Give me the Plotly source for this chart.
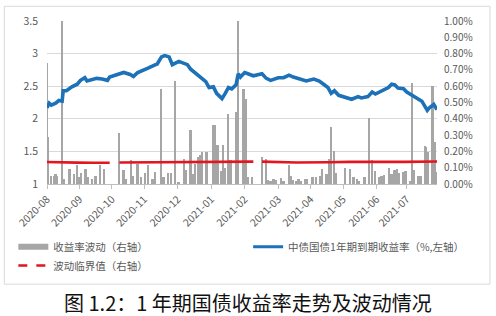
import plotly.graph_objects as go

# ---------------- data ----------------
line_dates = ["2020-08-03","2020-08-05","2020-08-07","2020-08-11","2020-08-14","2020-08-17","2020-08-18",
              "2020-08-21","2020-08-26","2020-08-31","2020-09-03","2020-09-07","2020-09-09","2020-09-14",
              "2020-09-18","2020-09-23","2020-09-28","2020-09-30","2020-10-09","2020-10-13","2020-10-19",
              "2020-10-22","2020-10-26","2020-11-02","2020-11-05","2020-11-10","2020-11-13","2020-11-17",
              "2020-11-20","2020-11-24","2020-11-27","2020-12-03","2020-12-08","2020-12-11","2020-12-14",
              "2020-12-18","2020-12-23","2020-12-28","2020-12-31","2021-01-04","2021-01-07","2021-01-12",
              "2021-01-15","2021-01-18","2021-01-21","2021-01-25","2021-01-27","2021-01-29","2021-02-02",
              "2021-02-08","2021-02-10","2021-02-18","2021-02-22","2021-02-26","2021-03-05","2021-03-10",
              "2021-03-15","2021-03-19","2021-03-25","2021-03-31","2021-04-07","2021-04-12","2021-04-16",
              "2021-04-20","2021-04-23","2021-04-26","2021-04-30","2021-05-07","2021-05-12","2021-05-18",
              "2021-05-21","2021-05-27","2021-05-31","2021-06-03","2021-06-08","2021-06-15","2021-06-18",
              "2021-06-21","2021-06-24","2021-06-29","2021-07-02","2021-07-07","2021-07-12","2021-07-16",
              "2021-07-21","2021-07-23","2021-07-27","2021-07-30"]
line_vals = [2.17,2.24,2.21,2.24,2.28,2.27,2.43,
             2.43,2.49,2.53,2.59,2.63,2.58,2.61,
             2.62,2.61,2.59,2.64,2.69,2.71,2.68,
             2.65,2.71,2.75,2.78,2.82,2.84,2.95,
             2.97,2.95,2.83,2.88,2.84,2.83,2.76,
             2.71,2.64,2.57,2.48,2.49,2.39,2.31,
             2.39,2.48,2.46,2.52,2.69,2.64,2.71,
             2.68,2.66,2.69,2.62,2.59,2.63,2.63,
             2.67,2.64,2.61,2.58,2.61,2.58,2.53,
             2.48,2.39,2.43,2.36,2.32,2.30,2.34,
             2.32,2.34,2.41,2.38,2.42,2.48,2.53,
             2.52,2.47,2.46,2.41,2.36,2.31,2.27,
             2.13,2.17,2.22,2.14]

bar_dates = ["2020-08-03","2020-08-04","2020-08-07","2020-08-10","2020-08-11","2020-08-12","2020-08-17",
             "2020-08-19","2020-08-24","2020-08-28","2020-08-31","2020-09-02","2020-09-04","2020-09-08",
             "2020-09-10","2020-09-14","2020-09-17","2020-09-21","2020-09-25","2020-10-09","2020-10-13",
             "2020-10-15","2020-10-20","2020-10-22","2020-10-26","2020-10-29","2020-11-02","2020-11-05",
             "2020-11-09","2020-11-11","2020-11-17","2020-11-19","2020-11-23","2020-11-26","2020-11-30",
             "2020-12-03","2020-12-08","2020-12-10","2020-12-14","2020-12-16","2020-12-18","2020-12-21",
             "2020-12-23","2020-12-25","2020-12-29","2021-01-04","2021-01-06","2021-01-08","2021-01-11",
             "2021-01-13","2021-01-15","2021-01-18","2021-01-20","2021-01-25","2021-01-27","2021-02-01",
             "2021-02-03","2021-02-05","2021-02-09","2021-02-18","2021-02-22","2021-02-24","2021-02-26",
             "2021-03-01","2021-03-03","2021-03-08","2021-03-10","2021-03-15","2021-03-17","2021-03-19",
             "2021-03-22","2021-03-24","2021-03-26","2021-03-30","2021-04-01","2021-04-06","2021-04-09",
             "2021-04-13","2021-04-15","2021-04-19","2021-04-21","2021-04-23","2021-04-26","2021-04-28",
             "2021-05-06","2021-05-11","2021-05-14","2021-05-17","2021-05-19","2021-05-24","2021-05-28",
             "2021-05-31","2021-06-03","2021-06-07","2021-06-09","2021-06-11","2021-06-16","2021-06-18",
             "2021-06-21","2021-06-23","2021-06-25","2021-06-29","2021-07-01","2021-07-05","2021-07-07",
             "2021-07-09","2021-07-13","2021-07-15","2021-07-19","2021-07-20","2021-07-22","2021-07-26",
             "2021-07-28","2021-07-29"]
bar_vals = [0.74,0.29,0.05,0.05,0.06,0.05,1.05,
            0.03,0.09,0.06,0.115,0.04,0.07,0.09,
            0.04,0.03,0.05,0.115,0.09,0.31,0.085,
            0.03,0.145,0.05,0.12,0.04,0.065,0.115,
            0.03,0.075,0.58,0.04,0.065,0.065,0.63,
            0.01,0.155,0.085,0.33,0.06,0.125,0.165,
            0.175,0.195,0.195,0.36,0.36,0.24,0.08,
            0.24,0.10,0.43,0.145,0.44,1.05,0.58,
            0.52,0.04,0.04,0.165,0.155,0.025,0.02,
            0.03,0.025,0.035,0.02,0.115,0.05,0.025,
            0.02,0.03,0.02,0.03,0.03,0.045,0.04,
            0.05,0.09,0.06,0.155,0.35,0.205,0.065,
            0.10,0.095,0.04,0.03,0.02,0.04,0.405,
            0.15,0.08,0.04,0.05,0.055,0.10,0.06,
            0.085,0.09,0.07,0.075,0.08,0.02,0.62,
            0.085,0.05,0.05,0.235,0.23,0.195,0.60,
            0.255,0.075]

thr_dates = ["2020-08-03","2020-08-20","2020-08-31","2020-09-15","2020-09-30","2020-10-01","2020-10-09",
             "2020-11-02","2020-12-01","2020-12-31","2021-01-29","2021-02-10","2021-02-11","2021-02-18",
             "2021-03-22","2021-04-20","2021-05-10","2021-06-30","2021-07-30"]
thr_vals = [0.135,0.135,0.131,0.130,0.130,None,0.132,
            0.133,0.134,0.137,0.137,0.137,None,0.137,
            0.132,0.133,0.136,0.136,0.138]

tick_dates = ["2020-08-03","2020-09-02","2020-10-02","2020-11-01","2020-12-02","2021-01-02",
              "2021-02-02","2021-03-05","2021-04-04","2021-05-04","2021-06-04","2021-07-02"]
tick_labels = ["2020-08","2020-09","2020-10","2020-11","2020-12","2021-01",
               "2021-02","2021-03","2021-04","2021-05","2021-06","2021-07"]

left_ticks = [1, 1.5, 2, 2.5, 3, 3.5]
right_ticks = [0, 0.1, 0.2, 0.3, 0.4, 0.5, 0.6, 0.7, 0.8, 0.9, 1.0]

name_bar = "收益率波动（右轴）"
name_line = "中债国债1年期到期收益率（%,左轴）"
name_thr = "波动临界值（右轴）"
caption = "图 1.2：1 年期国债收益率走势及波动情况"

# ---------------- styles ----------------
GRAY = "#A6A6A6"
BLUE = "#1C71B8"
RED = "#E3151E"
TXT = "#595959"
FONT = "Noto Sans CJK SC"

fig = go.Figure()

fig.add_trace(go.Bar(x=bar_dates, y=bar_vals, yaxis="y", marker=dict(color=GRAY, line=dict(width=0)),
                     width=1.7 * 86400000, showlegend=False, name=name_bar))
fig.add_trace(go.Scatter(x=thr_dates, y=thr_vals, yaxis="y", mode="lines",
                         line=dict(color=RED, width=2.6), connectgaps=False,
                         showlegend=False, name=name_thr))
fig.add_trace(go.Scatter(x=line_dates, y=line_vals, yaxis="y2", mode="lines",
                         line=dict(color=BLUE, width=3.6), showlegend=False, name=name_line))

# legend-only entries
fig.add_trace(go.Scatter(x=[None], y=[None], mode="lines", line=dict(color=GRAY, width=6),
                         name=name_bar, legend="legend"))
fig.add_trace(go.Scatter(x=[None], y=[None], mode="lines", line=dict(color=BLUE, width=3),
                         name=name_line, legend="legend2"))
fig.add_trace(go.Scatter(x=[None], y=[None], mode="lines", line=dict(color=RED, width=2.5, dash="dash"),
                         name=name_thr, legend="legend3"))

leg_common = dict(font=dict(family=FONT, size=10.5, color=TXT), bgcolor="rgba(0,0,0,0)",
                  xanchor="left", yanchor="middle", orientation="h")

fig.update_layout(
    width=496, height=316,
    margin=dict(l=47, r=59, t=18, b=132),
    paper_bgcolor="white", plot_bgcolor="white",
    font=dict(family=FONT, color=TXT),
    bargap=0,
    xaxis=dict(type="date", range=["2020-08-03", "2021-07-30"],
               tickvals=tick_dates, ticktext=tick_labels, tickangle=-45,
               tickfont=dict(size=10.5, color=TXT, family=FONT),
               showgrid=False, showline=True, linecolor="#BFBFBF", linewidth=1,
               ticks="outside", ticklen=4, tickcolor="#BFBFBF", zeroline=False),
    yaxis=dict(side="right", range=[0, 1.0], tickvals=right_ticks,
               ticktext=[f"{v:.2f}%" for v in right_ticks],
               tickfont=dict(size=10, color=TXT), showgrid=False, zeroline=False,
               ticklabelstandoff=6, fixedrange=True),
    yaxis2=dict(side="left", overlaying="y", range=[1, 3.5], tickvals=left_ticks,
                tickfont=dict(size=10.5, color=TXT), showgrid=True, gridcolor="#D9D9D9",
                gridwidth=1, zeroline=False, ticklabelstandoff=8),
    legend=dict(x=-0.0863, y=-0.3855, **leg_common),
    legend2=dict(x=0.5157, y=-0.3855, **leg_common),
    legend3=dict(x=-0.0863, y=-0.50, **leg_common),
    shapes=[dict(type="rect", xref="paper", yref="paper", x0=-0.1094, x1=1.1358,
                 y0=-0.6145, y1=1.0904, line=dict(color="#D9D9D9", width=1), layer="below")],
    annotations=[dict(text=caption, xref="paper", yref="paper", x=0.5158, y=-0.729,
                      xanchor="center", yanchor="middle", showarrow=False,
                      font=dict(family=FONT, size=20, color="#111111"))],
)

fig.write_html("out.html")
